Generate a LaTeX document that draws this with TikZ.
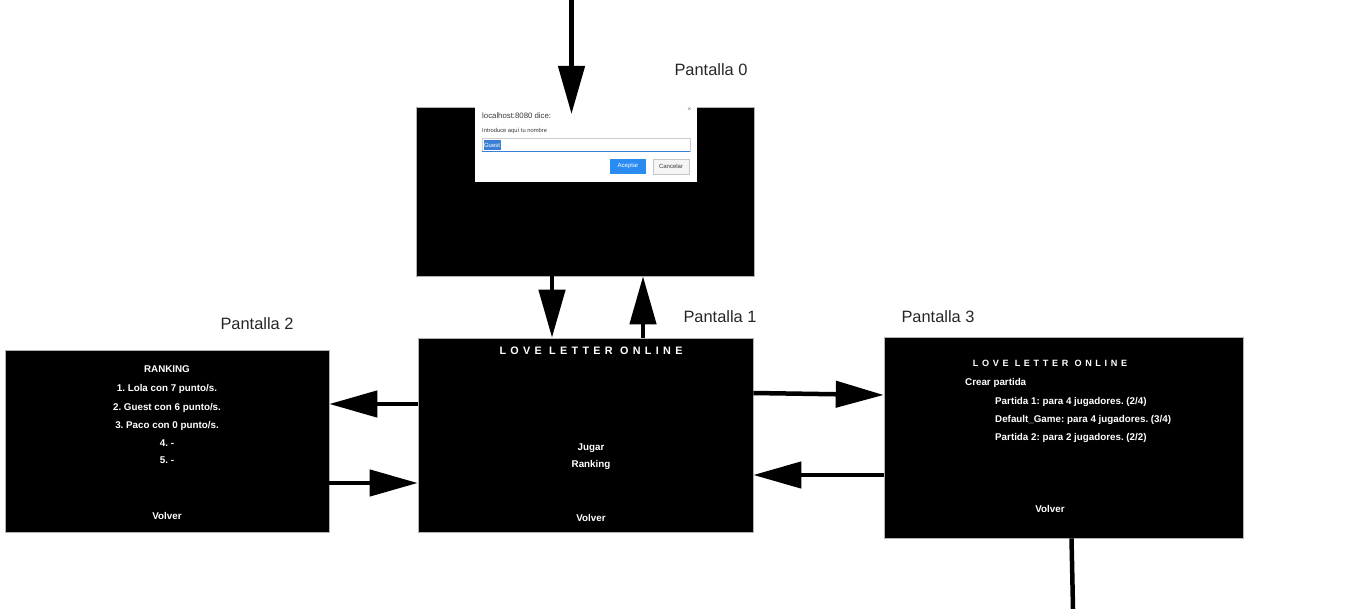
\documentclass[tikz,border=0pt]{standalone}
\usepackage{fontspec}
\setmainfont{Liberation Sans}
\usetikzlibrary{arrows.meta}
\definecolor{btnblue}{HTML}{2A8CF0}
\definecolor{selblue}{HTML}{3A7FD5}
\definecolor{dlgtext}{HTML}{3A3A3A}
\frenchspacing
\begin{document}
\begin{tikzpicture}[x=1pt,y=-1pt,
  screen/.style={fill=black, draw=gray!60, line width=0.6pt, inner sep=0pt},
  arr/.style={line width=4.5pt, -{Triangle[length=48pt,width=26pt]}},
  plainline/.style={line width=4.5pt},
  lbl/.style={font=\fontsize{16.4}{18}\selectfont, text=black!85, inner sep=0pt},
  wt/.style={text=white, font=\fontsize{9.8}{11}\selectfont\bfseries, inner sep=0pt, anchor=base},
  wtl/.style={wt, anchor=base west},
  logo/.style={text=white, font=\fontsize{10.8}{12}\selectfont\bfseries\addfontfeature{LetterSpace=40}, inner sep=0pt},
  logosm/.style={text=white, font=\fontsize{9.1}{10}\selectfont\bfseries\addfontfeature{LetterSpace=40}, inner sep=0pt},
  dtext/.style={text=dlgtext, inner sep=0pt, anchor=base west},
]
\useasboundingbox (0,0) rectangle (1365,609);

% screens
\node[screen, minimum width=338pt, minimum height=169pt] (p0) at (585,191.5) {};
\node[screen, minimum width=335pt, minimum height=194pt] (p1) at (585.5,435) {};
\node[screen, minimum width=324pt, minimum height=182pt] (p2) at (167,441) {};
\node[screen, minimum width=359pt, minimum height=201pt] (p3) at (1063.5,437.5) {};

% labels
\node[lbl] (l0) at (711,70) {Pantalla 0};
\node[lbl] (l1) at (720,317) {Pantalla 1};
\node[lbl] (l2) at (257,324) {Pantalla 2};
\node[lbl] (l3) at (938,317) {Pantalla 3};

% dialog in Pantalla 0
\node[fill=white, minimum width=222pt, minimum height=79pt, inner sep=0pt] (dlg) at (586,142.5) {};
\node[dtext, font=\fontsize{7.8}{9}\selectfont] (dh) at (482,119) {localhost:8080 dice:};
\node[dtext, font=\fontsize{5.8}{7}\selectfont] (dq) at (482,133) {Introduce aquí tu nombre};
\node[draw=gray!40, line width=0.4pt, minimum width=208pt, minimum height=13pt, inner sep=0pt] (inp) at (586,145) {};
\draw[selblue, line width=1pt] (inp.south west) -- (inp.south east);
\node[fill=selblue, text=white, font=\fontsize{6}{7}\selectfont, minimum width=17pt, minimum height=10pt, inner sep=0pt] (guest) at (492,145) {Guest};
\node[fill=btnblue, text=white, font=\fontsize{6}{7}\selectfont, minimum width=36pt, minimum height=15pt, inner sep=0pt] (ok) at (628,166.5) {Aceptar};
\node[fill=gray!8, draw=gray!45, line width=0.5pt, text=dlgtext, font=\fontsize{6}{7}\selectfont, minimum width=36pt, minimum height=15pt, inner sep=0pt] (cancel) at (671,166.5) {Cancelar};
\node[text=gray, font=\fontsize{7}{8}\selectfont, inner sep=0pt] (close) at (689.5,110) {×};

% Pantalla 1 texts
\node[logo] (t1a) at (591,351) {LOVE LETTER ONLINE};
\node[wt] (t1b) at (591,450.5) {Jugar};
\node[wt] (t1c) at (591,467) {Ranking};
\node[wt] (t1d) at (591,521.5) {Volver};

% Pantalla 2 texts
\node[wt] (t2a) at (167,372.5) {RANKING};
\node[wt] (t2b) at (167,391.5) {1. Lola con 7 punto/s.};
\node[wt] (t2c) at (167,410.5) {2. Guest con 6 punto/s.};
\node[wt] (t2d) at (167,428.5) {3. Paco con 0 punto/s.};
\node[wt] (t2e) at (167,446.5) {4. -};
\node[wt] (t2f) at (167,463.5) {5. -};
\node[wt] (t2g) at (167,519.5) {Volver};

% Pantalla 3 texts
\node[logosm] (t3a) at (1050,363) {LOVE LETTER ONLINE};
\node[wtl] (t3b) at (965,385) {Crear partida};
\node[wtl] (t3c) at (995,404) {Partida 1: para 4 jugadores. (2/4)};
\node[wtl] (t3d) at (995,422) {Default\_Game: para 4 jugadores. (3/4)};
\node[wtl] (t3e) at (995,440) {Partida 2: para 2 jugadores. (2/2)};
\node[wt] (t3f) at (1050,512.5) {Volver};

% connectors
\coordinate (top0) at (571.5,0);
\coordinate (top1) at (571.5,114);
\draw[arr] (top0) -- (top1);

\draw[arr] (p0.south -| 552,0) -- (p1.north -| 552,0);
\draw[arr] (p1.north -| 643,0) -- (p0.south -| 643,0);

\draw[arr] (p1.west |- 0,404) -- (p2.east |- 0,404);
\draw[arr] (p2.east |- 0,483) -- (p1.west |- 0,483);

\draw[arr] (p1.east |- 0,393) -- (p3.west |- 0,395);
\draw[arr] (p3.west |- 0,475) -- (p1.east |- 0,475);

\coordinate (bot) at (1073,609);
\draw[plainline] (p3.south -| 1071.5,0) -- (bot);
\end{tikzpicture}
\end{document}
